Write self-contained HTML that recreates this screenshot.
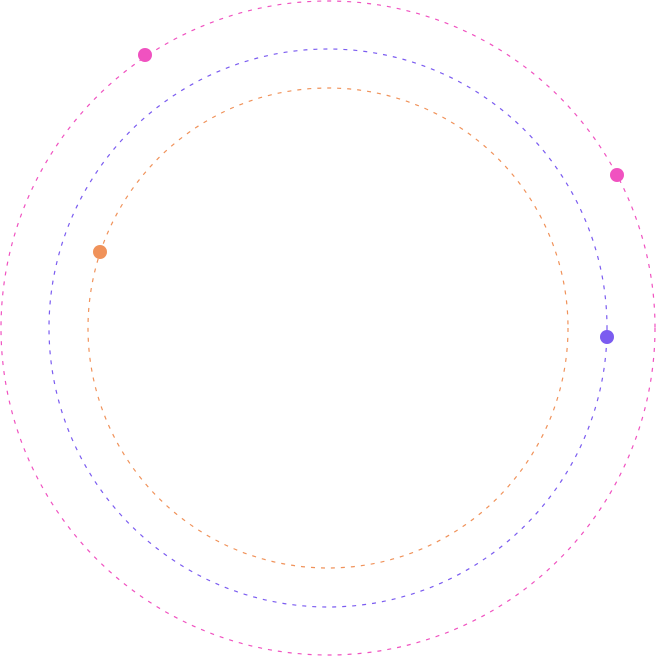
<!DOCTYPE html>
<html><head><style>html,body{margin:0;padding:0;background:#fff;}svg{display:block}</style></head>
<body>
<svg width="656" height="656" viewBox="0 0 656 656">
<circle cx="328" cy="328" r="327" fill="none" stroke="#f052c0" stroke-width="1.2" stroke-dasharray="4 6"/>
<circle cx="328" cy="328" r="279" fill="none" stroke="#7b5cf0" stroke-width="1.2" stroke-dasharray="4 6"/>
<circle cx="328" cy="328" r="240" fill="none" stroke="#f0925a" stroke-width="1.2" stroke-dasharray="4 6"/>
<circle cx="145" cy="55" r="7" fill="#f052c0"/>
<circle cx="617" cy="175" r="7" fill="#f052c0"/>
<circle cx="100" cy="252" r="7" fill="#f0925a"/>
<circle cx="607" cy="337" r="7" fill="#7b5cf0"/>
</svg>
</body></html>
